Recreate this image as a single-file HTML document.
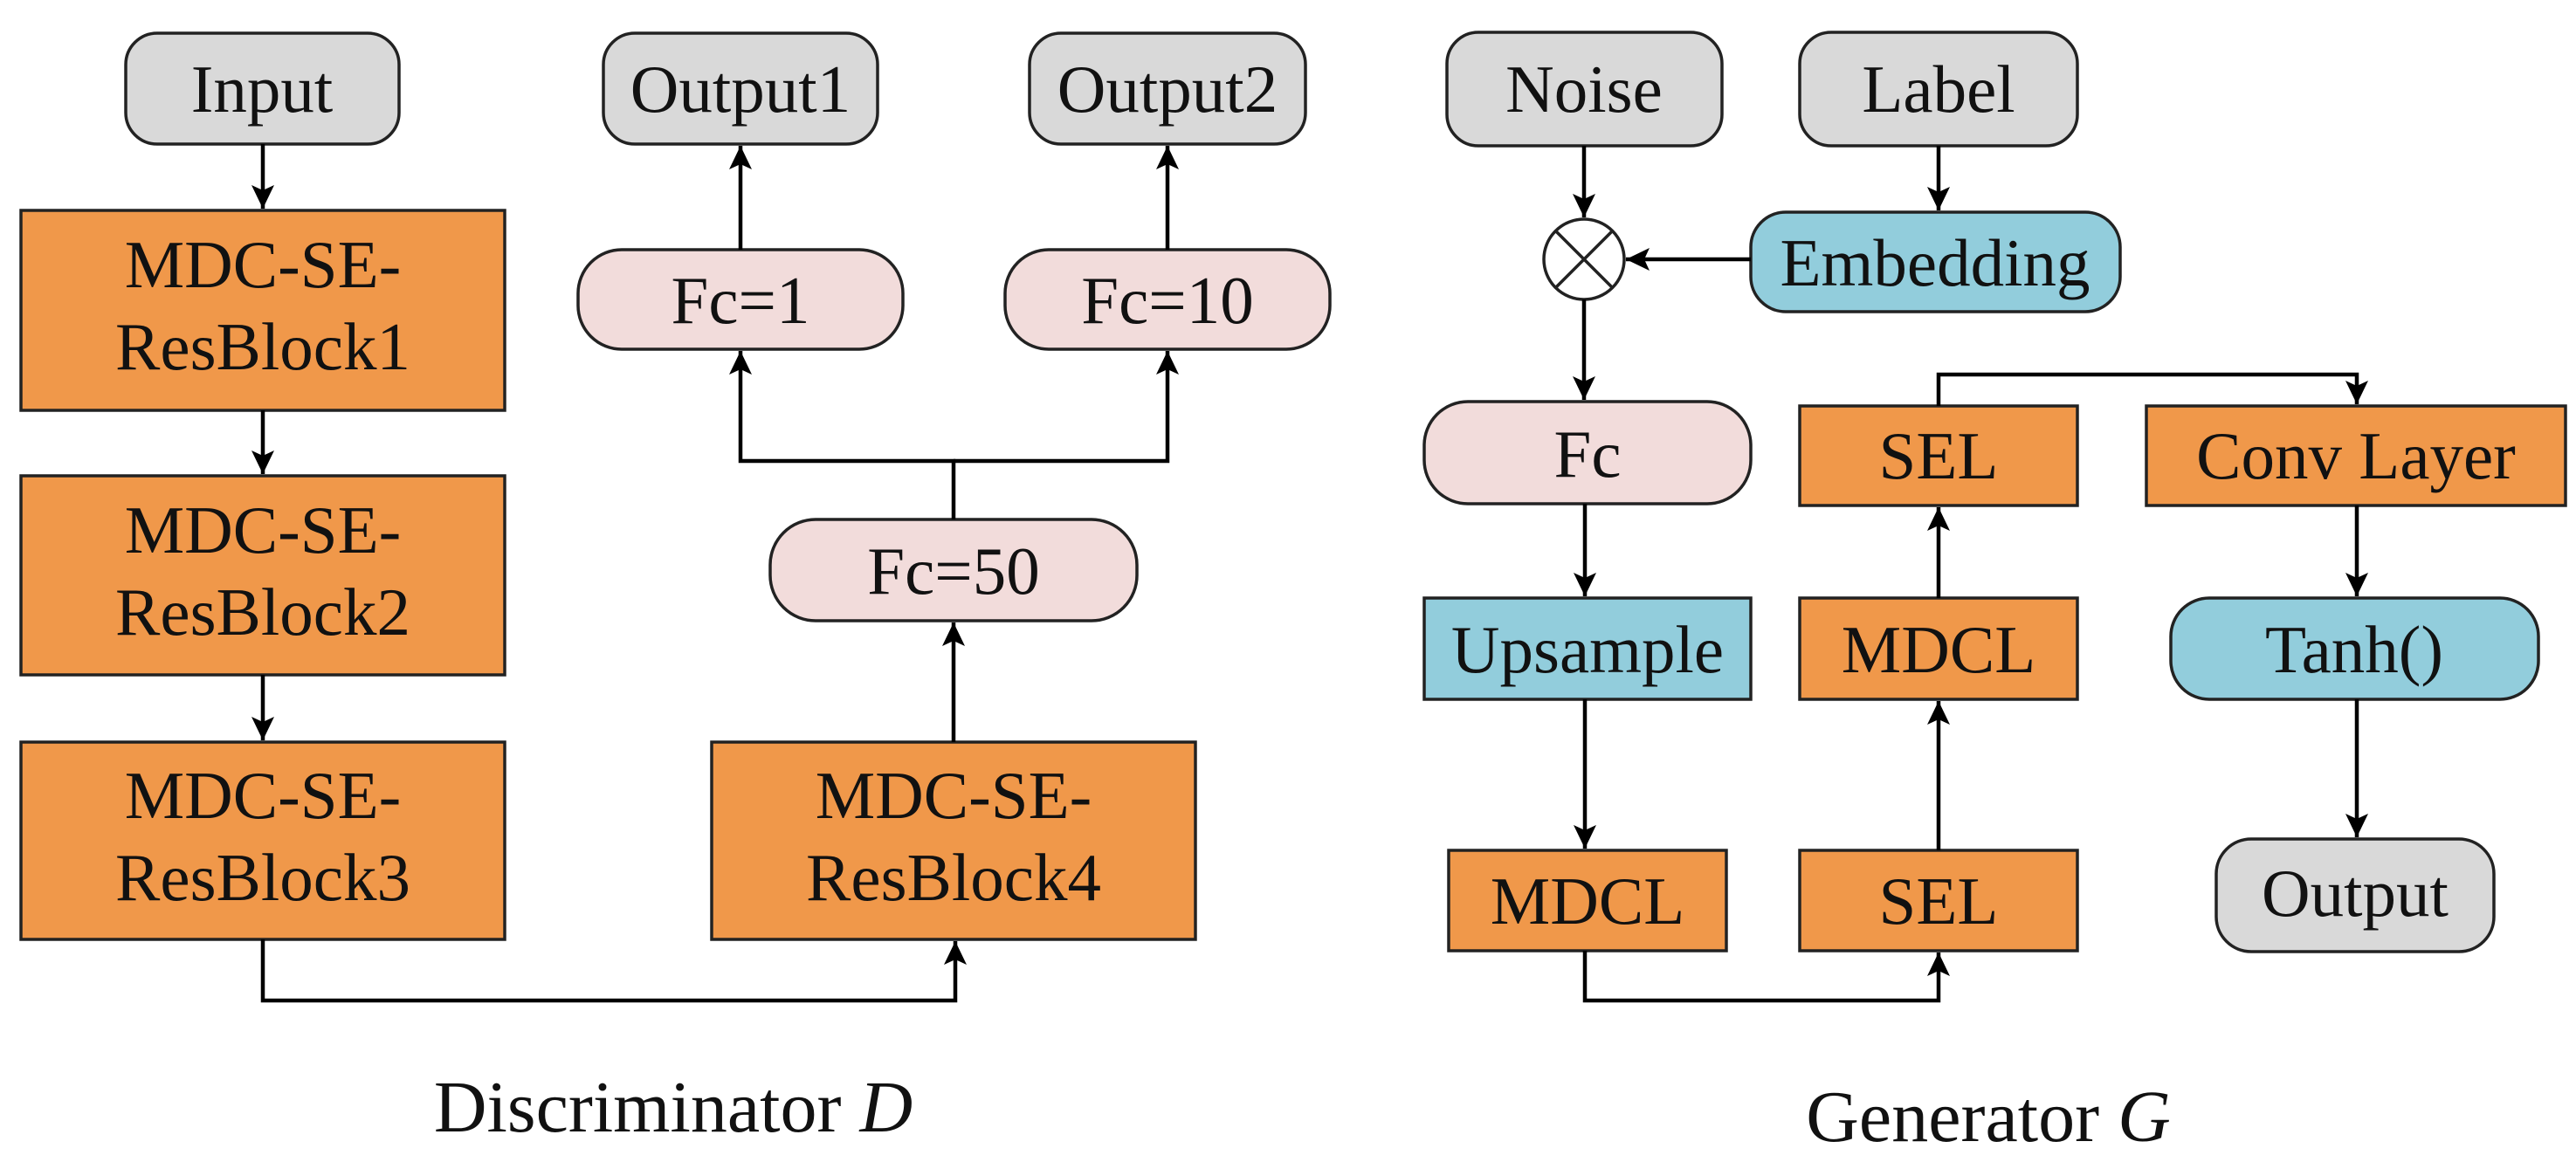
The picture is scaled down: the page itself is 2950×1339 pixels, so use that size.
<!DOCTYPE html>
<html><head><meta charset="utf-8"><style>
html,body{margin:0;padding:0;background:#fff;}
svg{display:block;}
text{font-family:"Liberation Serif","Times New Roman","DejaVu Serif",serif;fill:#111;}
</style></head><body>
<svg width="2950" height="1339" viewBox="0 0 2950 1339" xmlns="http://www.w3.org/2000/svg">
<defs>
<marker id="a" markerWidth="8" markerHeight="8" refX="7" refY="4" orient="auto" markerUnits="userSpaceOnUse" viewBox="0 0 8 8" style="overflow:visible">
<path d="M-20,-9 L7,4 L-20,17 L-14,4 Z" fill="#000"/>
</marker>
</defs>
<g stroke="#222" stroke-width="3.5">
<rect x="144" y="38" width="313" height="127" rx="36" fill="#D9D9D9"/>
<rect x="24" y="241" width="554" height="229" fill="#F0984A"/>
<rect x="24" y="545" width="554" height="228" fill="#F0984A"/>
<rect x="24" y="850" width="554" height="226" fill="#F0984A"/>
<rect x="815" y="850" width="554" height="226" fill="#F0984A"/>
<rect x="882" y="595" width="420" height="116" rx="52" fill="#F2DCDB"/>
<rect x="662" y="286" width="372" height="114" rx="50" fill="#F2DCDB"/>
<rect x="1151" y="286" width="372" height="114" rx="50" fill="#F2DCDB"/>
<rect x="691" y="38" width="314" height="127" rx="36" fill="#D9D9D9"/>
<rect x="1179" y="38" width="316" height="127" rx="36" fill="#D9D9D9"/>
<rect x="1657" y="37" width="315" height="130" rx="36" fill="#D9D9D9"/>
<rect x="2061" y="37" width="318" height="130" rx="36" fill="#D9D9D9"/>
<rect x="2005" y="243" width="423" height="114" rx="40" fill="#92CDDC"/>
<circle cx="1814" cy="297" r="46" fill="#fff"/>
<line x1="1781" y1="264" x2="1847" y2="330"/>
<line x1="1847" y1="264" x2="1781" y2="330"/>
<rect x="1631" y="460" width="374" height="117" rx="50" fill="#F2DCDB"/>
<rect x="1631" y="685" width="374" height="116" fill="#92CDDC"/>
<rect x="1659" y="974" width="318" height="115" fill="#F0984A"/>
<rect x="2061" y="974" width="318" height="115" fill="#F0984A"/>
<rect x="2061" y="685" width="318" height="116" fill="#F0984A"/>
<rect x="2061" y="465" width="318" height="114" fill="#F0984A"/>
<rect x="2458" y="465" width="480" height="114" fill="#F0984A"/>
<rect x="2486" y="685" width="421" height="116" rx="44" fill="#92CDDC"/>
<rect x="2538" y="961" width="318" height="129" rx="40" fill="#D9D9D9"/>
</g>
<g stroke="#000" stroke-width="4.5" fill="none" marker-end="url(#a)">
<line x1="301" y1="165" x2="301" y2="239"/>
<line x1="301" y1="470" x2="301" y2="543"/>
<line x1="301" y1="773" x2="301" y2="848"/>
<polyline points="301,1076 301,1146 1094,1146 1094,1078"/>
<line x1="1092" y1="850" x2="1092" y2="713"/>
<polyline points="1092,595 1092,528 848,528 848,402"/>
<polyline points="1092,528 1337,528 1337,402"/>
<line x1="848" y1="286" x2="848" y2="167"/>
<line x1="1337" y1="286" x2="1337" y2="167"/>
<line x1="1814" y1="167" x2="1814" y2="249"/>
<line x1="2220" y1="167" x2="2220" y2="241"/>
<line x1="2005" y1="297" x2="1862" y2="297"/>
<line x1="1814" y1="343" x2="1814" y2="458"/>
<line x1="1815" y1="577" x2="1815" y2="683"/>
<line x1="1815" y1="801" x2="1815" y2="972"/>
<polyline points="1815,1089 1815,1146 2220,1146 2220,1091"/>
<line x1="2220" y1="974" x2="2220" y2="803"/>
<line x1="2220" y1="685" x2="2220" y2="581"/>
<polyline points="2220,465 2220,429 2699,429 2699,463"/>
<line x1="2699" y1="579" x2="2699" y2="683"/>
<line x1="2699" y1="801" x2="2699" y2="959"/>
</g>
<g font-size="77" text-anchor="middle" font-family="Liberation Serif, DejaVu Serif, serif">
<text x="300" y="128">Input</text>
<text x="301" y="329">MDC-SE-</text><text x="301" y="423">ResBlock1</text>
<text x="301" y="633">MDC-SE-</text><text x="301" y="727">ResBlock2</text>
<text x="301" y="937">MDC-SE-</text><text x="301" y="1031">ResBlock3</text>
<text x="1092" y="937">MDC-SE-</text><text x="1092" y="1031">ResBlock4</text>
<text x="1092" y="680">Fc=50</text>
<text x="848" y="370">Fc=1</text>
<text x="1337" y="370">Fc=10</text>
<text x="848" y="128">Output1</text>
<text x="1337" y="128">Output2</text>
<text x="1814" y="128">Noise</text>
<text x="2220" y="128">Label</text>
<text x="2216" y="327">Embedding</text>
<text x="1818" y="546">Fc</text>
<text x="1818" y="770">Upsample</text>
<text x="1818" y="1058">MDCL</text>
<text x="2220" y="1058">SEL</text>
<text x="2220" y="770">MDCL</text>
<text x="2220" y="548">SEL</text>
<text x="2698" y="548">Conv Layer</text>
<text x="2696" y="770">Tanh()</text>
<text x="2697" y="1049">Output</text>
</g>
<g font-size="84" text-anchor="middle" font-family="Liberation Serif, DejaVu Serif, serif">
<text x="771" y="1296">Discriminator <tspan font-style="italic">D</tspan></text>
<text x="2277" y="1307">Generator <tspan font-style="italic">G</tspan></text>
</g>
</svg>
</body></html>
